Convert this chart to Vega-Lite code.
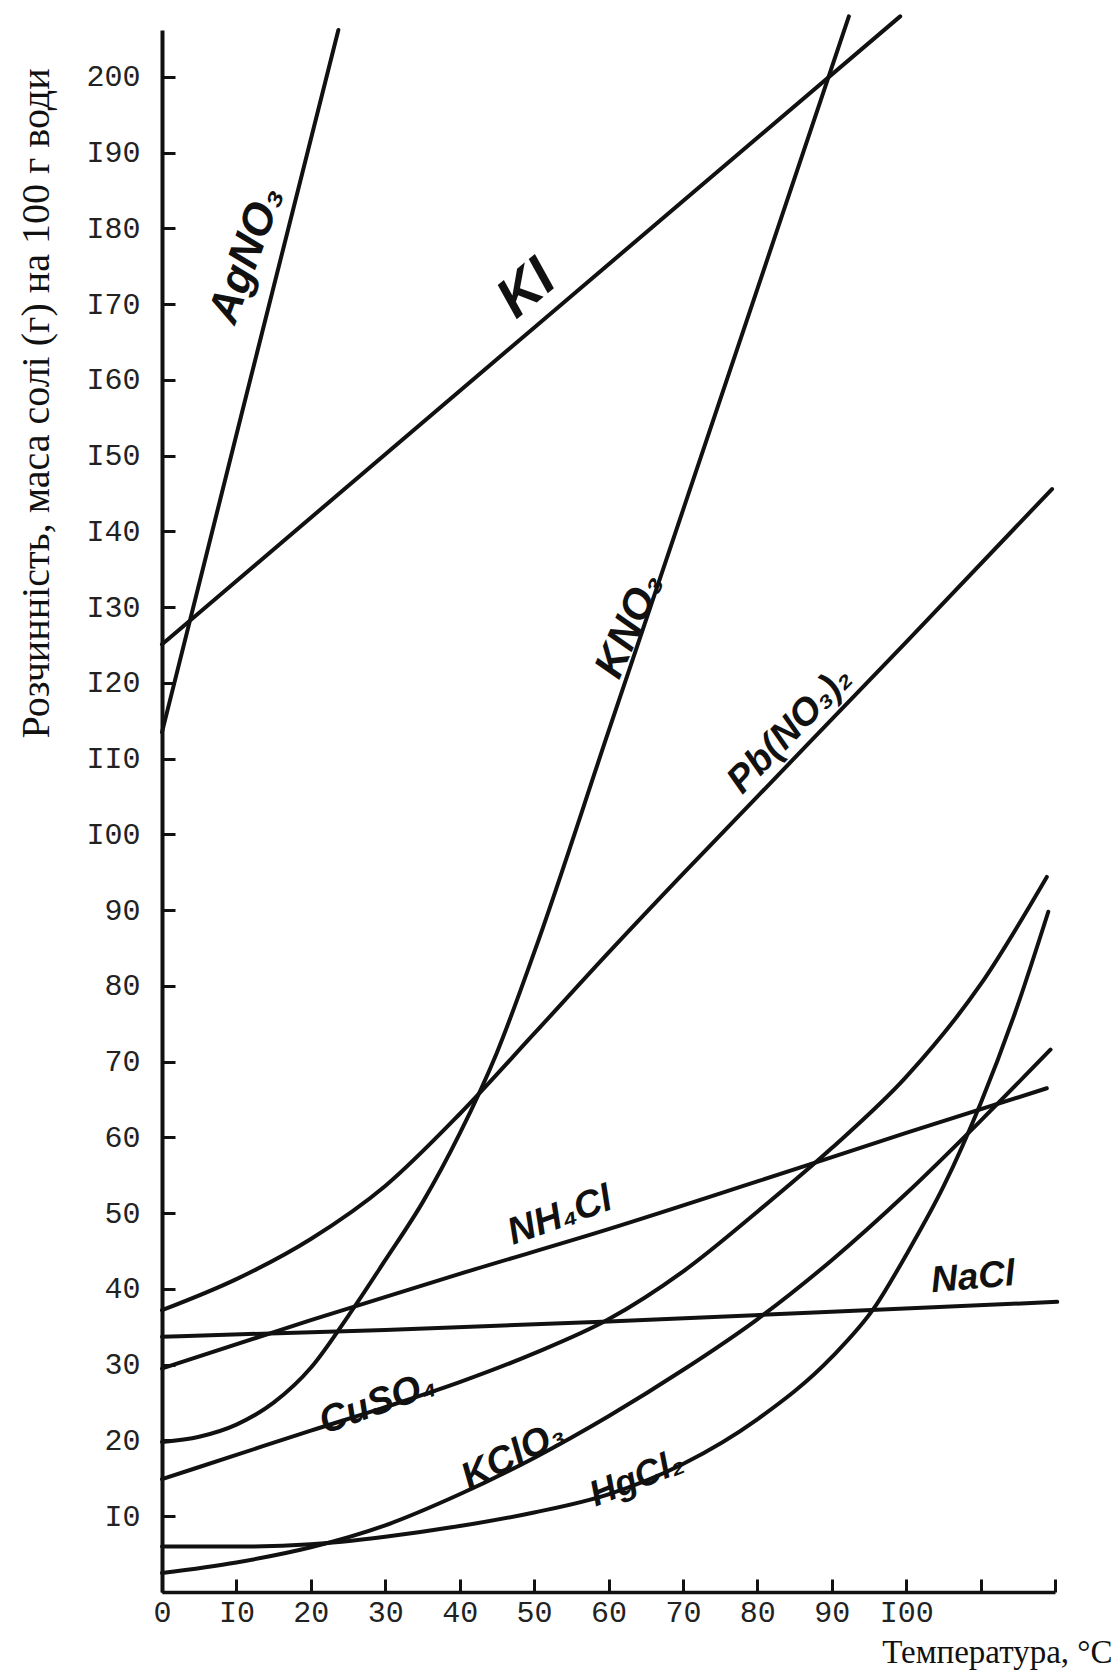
{
  "$schema": "https://vega.github.io/schema/vega-lite/v6.json",
  "width": 893,
  "height": 1562,
  "autosize": {"type": "none"},
  "padding": {"left": 162, "top": 30, "right": 61, "bottom": 83},
  "background": "white",
  "config": {"view": {"stroke": null}, "axis": {"grid": false}},
  "datasets": {
    "curves": [
      {"salt": "AgNO3", "t": 0, "v": 113.5}, {"salt": "AgNO3", "t": 10.9, "v": 156.3}, {"salt": "AgNO3", "t": 23.7, "v": 206.2},
      {"salt": "KI", "t": 0, "v": 125.1}, {"salt": "KI", "t": 50, "v": 166.9}, {"salt": "KI", "t": 99.2, "v": 208},
      {"salt": "KNO3", "t": 0, "v": 19.8}, {"salt": "KNO3", "t": 5, "v": 20.5}, {"salt": "KNO3", "t": 10, "v": 22.1}, {"salt": "KNO3", "t": 15, "v": 25}, {"salt": "KNO3", "t": 20, "v": 29.6}, {"salt": "KNO3", "t": 25, "v": 36.4}, {"salt": "KNO3", "t": 30, "v": 43.8}, {"salt": "KNO3", "t": 35, "v": 51.4}, {"salt": "KNO3", "t": 40, "v": 60.5}, {"salt": "KNO3", "t": 45, "v": 71.2}, {"salt": "KNO3", "t": 50, "v": 84.4}, {"salt": "KNO3", "t": 60, "v": 113.6}, {"salt": "KNO3", "t": 70, "v": 142.8}, {"salt": "KNO3", "t": 80, "v": 172}, {"salt": "KNO3", "t": 92.3, "v": 208},
      {"salt": "Pb(NO3)2", "t": 0, "v": 37.2}, {"salt": "Pb(NO3)2", "t": 10, "v": 41.3}, {"salt": "Pb(NO3)2", "t": 20, "v": 46.6}, {"salt": "Pb(NO3)2", "t": 30, "v": 53.6}, {"salt": "Pb(NO3)2", "t": 40, "v": 63.1}, {"salt": "Pb(NO3)2", "t": 50, "v": 73.7}, {"salt": "Pb(NO3)2", "t": 60, "v": 84.4}, {"salt": "Pb(NO3)2", "t": 70, "v": 94.8}, {"salt": "Pb(NO3)2", "t": 80, "v": 105}, {"salt": "Pb(NO3)2", "t": 100, "v": 125.4}, {"salt": "Pb(NO3)2", "t": 119.6, "v": 145.6},
      {"salt": "NH4Cl", "t": 0, "v": 29.5}, {"salt": "NH4Cl", "t": 20, "v": 35.9}, {"salt": "NH4Cl", "t": 40, "v": 42}, {"salt": "NH4Cl", "t": 60, "v": 47.9}, {"salt": "NH4Cl", "t": 80, "v": 54.2}, {"salt": "NH4Cl", "t": 100, "v": 60.6}, {"salt": "NH4Cl", "t": 118.9, "v": 66.5},
      {"salt": "NaCl", "t": 0, "v": 33.7}, {"salt": "NaCl", "t": 30, "v": 34.6}, {"salt": "NaCl", "t": 60, "v": 35.7}, {"salt": "NaCl", "t": 90, "v": 37}, {"salt": "NaCl", "t": 120.3, "v": 38.3},
      {"salt": "CuSO4", "t": 0, "v": 14.9}, {"salt": "CuSO4", "t": 10, "v": 18.1}, {"salt": "CuSO4", "t": 20, "v": 21.3}, {"salt": "CuSO4", "t": 30, "v": 24.4}, {"salt": "CuSO4", "t": 40, "v": 27.7}, {"salt": "CuSO4", "t": 50, "v": 31.5}, {"salt": "CuSO4", "t": 60, "v": 36}, {"salt": "CuSO4", "t": 70, "v": 42.3}, {"salt": "CuSO4", "t": 80, "v": 50.2}, {"salt": "CuSO4", "t": 90, "v": 58.6}, {"salt": "CuSO4", "t": 100, "v": 68}, {"salt": "CuSO4", "t": 110, "v": 80.2}, {"salt": "CuSO4", "t": 118.9, "v": 94.4},
      {"salt": "KClO3", "t": 0, "v": 2.5}, {"salt": "KClO3", "t": 10, "v": 3.9}, {"salt": "KClO3", "t": 20, "v": 5.9}, {"salt": "KClO3", "t": 30, "v": 8.8}, {"salt": "KClO3", "t": 40, "v": 12.9}, {"salt": "KClO3", "t": 50, "v": 17.7}, {"salt": "KClO3", "t": 60, "v": 23.2}, {"salt": "KClO3", "t": 70, "v": 29.3}, {"salt": "KClO3", "t": 80, "v": 36}, {"salt": "KClO3", "t": 90, "v": 43.8}, {"salt": "KClO3", "t": 100, "v": 52.6}, {"salt": "KClO3", "t": 110, "v": 62.2}, {"salt": "KClO3", "t": 119.4, "v": 71.6},
      {"salt": "HgCl2", "t": 0, "v": 6}, {"salt": "HgCl2", "t": 10, "v": 6}, {"salt": "HgCl2", "t": 20, "v": 6.3}, {"salt": "HgCl2", "t": 30, "v": 7.3}, {"salt": "HgCl2", "t": 40, "v": 8.7}, {"salt": "HgCl2", "t": 50, "v": 10.5}, {"salt": "HgCl2", "t": 60, "v": 12.9}, {"salt": "HgCl2", "t": 70, "v": 16.9}, {"salt": "HgCl2", "t": 80, "v": 22.8}, {"salt": "HgCl2", "t": 90, "v": 31}, {"salt": "HgCl2", "t": 95.7, "v": 37.5}, {"salt": "HgCl2", "t": 100, "v": 44.5}, {"salt": "HgCl2", "t": 105, "v": 53.5}, {"salt": "HgCl2", "t": 110, "v": 64.5}, {"salt": "HgCl2", "t": 115, "v": 77.5}, {"salt": "HgCl2", "t": 119.1, "v": 89.8}
    ],
    "labels": [
      {"salt": "AgNO3", "label": "AgNO₃", "t": 11.4, "v": 176.5},
      {"salt": "KI", "label": "KI", "t": 49, "v": 172},
      {"salt": "KNO3", "label": "KNO₃", "t": 62.8, "v": 127.6},
      {"salt": "Pb(NO3)2", "label": "Pb(NO₃)₂", "t": 84.4, "v": 113.8},
      {"salt": "NH4Cl", "label": "NH₄Cl", "t": 53.5, "v": 49.6},
      {"salt": "NaCl", "label": "NaCl", "t": 109, "v": 41.5},
      {"salt": "CuSO4", "label": "CuSO₄", "t": 29, "v": 24.9},
      {"salt": "KClO3", "label": "KClO₃", "t": 47.2, "v": 18},
      {"salt": "HgCl2", "label": "HgCl₂", "t": 63.8, "v": 15}
    ]
  },
  "encoding": {
    "x": {
      "field": "t", "type": "quantitative",
      "scale": {"domain": [0, 120], "nice": false, "zero": false},
      "axis": {
        "values": [0, 10, 20, 30, 40, 50, 60, 70, 80, 90, 100, 110, 120],
        "labelExpr": "datum.value > 100 ? '' : replace(replace(datum.label, '1', 'I'), '1', 'I')",
        "domainColor": "#111", "domainWidth": 3.5,
        "tickColor": "#111", "tickWidth": 3, "tickSize": -13,
        "labelFont": "Liberation Mono", "labelFontSize": 30, "labelColor": "#222",
        "labelPadding": 18, "labelBaseline": "top", "labelFlush": false, "labelOverlap": false,
        "title": "Температура, °C",
        "titleFont": "Liberation Serif", "titleFontSize": 33, "titleFontWeight": "normal", "titleColor": "#111",
        "titleX": 950, "titleY": 70, "titleAlign": "right", "titleBaseline": "alphabetic"
      }
    },
    "y": {
      "field": "v", "type": "quantitative",
      "scale": {"domain": [0, 206.2], "nice": false, "zero": false},
      "axis": {
        "values": [0, 10, 20, 30, 40, 50, 60, 70, 80, 90, 100, 110, 120, 130, 140, 150, 160, 170, 180, 190, 200],
        "labelExpr": "datum.value == 0 ? '' : replace(replace(datum.label, '1', 'I'), '1', 'I')",
        "domainColor": "#111", "domainWidth": 4,
        "tickColor": "#111", "tickWidth": 3, "tickSize": -13,
        "labelFont": "Liberation Mono", "labelFontSize": 30, "labelColor": "#222",
        "labelPadding": 35, "labelAlign": "right", "labelBaseline": "middle", "labelFlush": false, "labelOverlap": false,
        "title": "Розчинність, маса солі (г) на 100 г води",
        "titleFont": "Liberation Serif", "titleFontSize": 40, "titleFontWeight": "normal", "titleColor": "#111",
        "titleAngle": -90, "titleX": -126, "titleY": 373, "titleAlign": "center", "titleBaseline": "middle"
      }
    }
  },
  "layer": [
    {
      "data": {"name": "curves"},
      "mark": {"type": "line", "color": "#111", "strokeWidth": 4, "interpolate": "monotone", "strokeCap": "round", "strokeJoin": "round"},
      "encoding": {"detail": {"field": "salt", "type": "nominal"}}
    },
    {
      "data": {"name": "labels"}, "transform": [{"filter": "datum.salt == 'AgNO3'"}],
      "mark": {"type": "text", "angle": -70, "font": "Liberation Sans", "fontStyle": "italic", "fontWeight": "bold", "fontSize": 44, "color": "#111", "align": "center", "baseline": "middle"},
      "encoding": {"text": {"field": "label"}}
    },
    {
      "data": {"name": "labels"}, "transform": [{"filter": "datum.salt == 'KI'"}],
      "mark": {"type": "text", "angle": -40, "font": "Liberation Sans", "fontStyle": "italic", "fontWeight": "bold", "fontSize": 56, "color": "#111", "align": "center", "baseline": "middle"},
      "encoding": {"text": {"field": "label"}}
    },
    {
      "data": {"name": "labels"}, "transform": [{"filter": "datum.salt == 'KNO3'"}],
      "mark": {"type": "text", "angle": -66, "font": "Liberation Sans", "fontStyle": "italic", "fontWeight": "bold", "fontSize": 42, "color": "#111", "align": "center", "baseline": "middle"},
      "encoding": {"text": {"field": "label"}}
    },
    {
      "data": {"name": "labels"}, "transform": [{"filter": "datum.salt == 'Pb(NO3)2'"}],
      "mark": {"type": "text", "angle": -46, "font": "Liberation Sans", "fontStyle": "italic", "fontWeight": "bold", "fontSize": 38, "color": "#111", "align": "center", "baseline": "middle"},
      "encoding": {"text": {"field": "label"}}
    },
    {
      "data": {"name": "labels"}, "transform": [{"filter": "datum.salt == 'NH4Cl'"}],
      "mark": {"type": "text", "angle": -20, "font": "Liberation Sans", "fontStyle": "italic", "fontWeight": "bold", "fontSize": 38, "color": "#111", "align": "center", "baseline": "middle"},
      "encoding": {"text": {"field": "label"}}
    },
    {
      "data": {"name": "labels"}, "transform": [{"filter": "datum.salt == 'NaCl'"}],
      "mark": {"type": "text", "angle": -5, "font": "Liberation Sans", "fontStyle": "italic", "fontWeight": "bold", "fontSize": 37, "color": "#111", "align": "center", "baseline": "middle"},
      "encoding": {"text": {"field": "label"}}
    },
    {
      "data": {"name": "labels"}, "transform": [{"filter": "datum.salt == 'CuSO4'"}],
      "mark": {"type": "text", "angle": -20, "font": "Liberation Sans", "fontStyle": "italic", "fontWeight": "bold", "fontSize": 38, "color": "#111", "align": "center", "baseline": "middle"},
      "encoding": {"text": {"field": "label"}}
    },
    {
      "data": {"name": "labels"}, "transform": [{"filter": "datum.salt == 'KClO3'"}],
      "mark": {"type": "text", "angle": -27, "font": "Liberation Sans", "fontStyle": "italic", "fontWeight": "bold", "fontSize": 38, "color": "#111", "align": "center", "baseline": "middle"},
      "encoding": {"text": {"field": "label"}}
    },
    {
      "data": {"name": "labels"}, "transform": [{"filter": "datum.salt == 'HgCl2'"}],
      "mark": {"type": "text", "angle": -22, "font": "Liberation Sans", "fontStyle": "italic", "fontWeight": "bold", "fontSize": 36, "color": "#111", "align": "center", "baseline": "middle"},
      "encoding": {"text": {"field": "label"}}
    }
  ]
}
